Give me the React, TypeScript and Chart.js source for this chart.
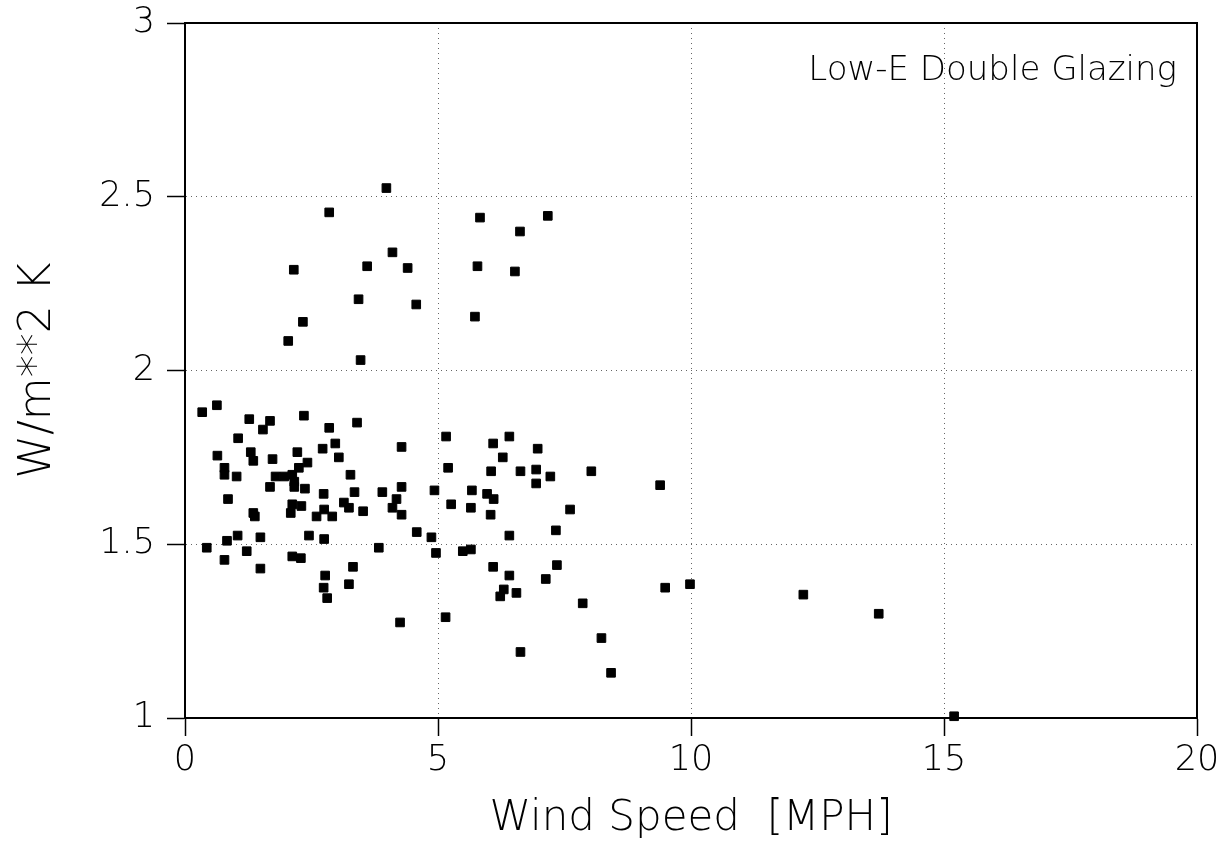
import React, { useEffect, useRef } from "react";
import { Chart, registerables } from "chart.js";

Chart.register(...registerables);

// Wind speed [MPH]
const windSpeed: number[] = [
  0.34, 0.63, 1.27, 1.68, 1.54, 2.35, 3.40, 2.85, 1.05, 2.97,
  5.16, 4.28, 6.41, 6.09, 6.97, 0.64, 1.30, 1.35, 1.73, 2.22,
  2.72, 3.04, 2.42, 2.25, 6.28, 0.78, 0.78, 1.02, 1.79, 1.96,
  2.12, 3.27, 6.63, 6.94, 7.22, 6.05, 5.20, 6.94, 1.68, 2.16,
  2.37, 2.16, 2.74, 3.35, 3.90, 4.28, 4.93, 5.67, 5.97, 6.10,
  0.85, 4.18, 4.10, 4.28, 5.26, 5.65, 6.04, 7.61, 2.12, 2.30,
  2.09, 3.14, 3.24, 3.52, 2.75, 2.60, 2.91, 1.35, 1.38, 4.58,
  4.87, 6.41, 7.33, 1.04, 0.83, 1.49, 2.45, 2.75, 0.43, 1.22,
  0.78, 2.12, 2.29, 3.83, 4.96, 5.49, 5.65, 1.49, 3.32, 6.09,
  7.35, 2.77, 6.41, 2.74, 3.24, 7.13, 2.81, 6.30, 6.23, 6.55,
  7.86, 4.25, 5.15, 6.63,
  3.98, 2.85, 5.83, 7.17, 6.62, 4.10, 2.15, 3.60, 4.40, 5.78,
  6.52, 3.43, 4.57, 5.73, 2.33, 2.04, 3.47,
  8.03, 9.39, 9.49, 9.98, 12.22, 13.71, 8.23, 8.42, 15.2,
];

// U-value [W/m**2 K]
const uValue: number[] = [
  1.88, 1.90, 1.86, 1.855, 1.83, 1.87, 1.85, 1.835, 1.805, 1.79,
  1.81, 1.78, 1.81, 1.79, 1.775, 1.755, 1.765, 1.74, 1.745, 1.765,
  1.775, 1.75, 1.735, 1.72, 1.75, 1.72, 1.70, 1.695, 1.695, 1.695,
  1.70, 1.70, 1.71, 1.715, 1.695, 1.71, 1.72, 1.675, 1.665, 1.665,
  1.66, 1.68, 1.645, 1.65, 1.65, 1.665, 1.655, 1.655, 1.645, 1.63,
  1.63, 1.63, 1.605, 1.585, 1.615, 1.605, 1.585, 1.60, 1.615, 1.61,
  1.59, 1.62, 1.605, 1.595, 1.60, 1.58, 1.58, 1.59, 1.58, 1.535,
  1.52, 1.525, 1.54, 1.525, 1.51, 1.52, 1.525, 1.515, 1.49, 1.48,
  1.455, 1.465, 1.46, 1.49, 1.475, 1.48, 1.485, 1.43, 1.435, 1.435,
  1.44, 1.41, 1.41, 1.375, 1.385, 1.40, 1.345, 1.37, 1.35, 1.36,
  1.33, 1.275, 1.29, 1.19,
  2.525, 2.455, 2.44, 2.445, 2.40, 2.34, 2.29, 2.30, 2.295, 2.30,
  2.285, 2.205, 2.19, 2.155, 2.14, 2.085, 2.03,
  1.71, 1.67, 1.375, 1.385, 1.355, 1.30, 1.23, 1.13, 1.005,
];

const xTitle = "Wind Speed  [MPH]";
const yTitle = "W/m**2 K";
const annotation = "Low-E Double Glazing";
const xTickValues = [0, 5, 10, 15, 20];
const yTickValues = [1, 1.5, 2, 2.5, 3];

const FONT = "'DejaVu Sans', 'Liberation Sans', sans-serif";

const framePlugin = {
  id: "frameAndNote",
  afterDraw(chart: any) {
    const { ctx, chartArea } = chart;
    const { left, right, top, bottom } = chartArea;
    ctx.save();
    ctx.strokeStyle = "#000";
    ctx.lineWidth = 2;
    ctx.beginPath();
    ctx.moveTo(left, top);
    ctx.lineTo(right, top);
    ctx.lineTo(right, bottom);
    ctx.stroke();
    ctx.fillStyle = "#000";
    ctx.font = `300 34px ${FONT}`;
    ctx.textAlign = "right";
    ctx.textBaseline = "alphabetic";
    ctx.fillText(annotation, right - 20, top + 57);
    ctx.restore();
  },
};

export default function App() {
  const ref = useRef<HTMLCanvasElement | null>(null);

  useEffect(() => {
    if (!ref.current) return;
    const points = windSpeed.map((x, i) => ({ x, y: uValue[i] }));
    const edgeX = (v: number) => v === 0 || v === 20;
    const edgeY = (v: number) => v === 1 || v === 3;
    const chart = new Chart(ref.current, {
      type: "scatter",
      data: {
        datasets: [
          {
            data: points,
            pointStyle: "rect",
            pointRadius: 6.1,
            pointHoverRadius: 6.1,
            backgroundColor: "#000",
            borderColor: "#000",
            borderWidth: 1,
            clip: false as any,
          },
        ],
      },
      options: {
        responsive: false,
        animation: false,
        events: [],
        layout: { padding: { top: 23, right: 34, left: 0, bottom: 0 } },
        plugins: {
          legend: { display: false },
          tooltip: { enabled: false },
        },
        scales: {
          x: {
            type: "linear",
            min: 0,
            max: 20,
            afterFit: (s: any) => {
              s.height = 853 - 718;
              s.paddingLeft = 0;
              s.paddingRight = 0;
            },
            afterBuildTicks: (s: any) => {
              s.ticks = xTickValues.map((v) => ({ value: v }));
            },
            ticks: {
              color: "#000",
              font: { family: FONT, size: 35, weight: 300 as any },
              padding: 4,
              maxRotation: 0,
              callback: (v: any) => String(v),
            },
            grid: {
              color: (c: any) => (edgeX(c.tick?.value) ? "rgba(0,0,0,0)" : "#666"),
              lineWidth: 1,
              tickColor: "#000",
              tickLength: 18,
              tickWidth: 1.5,
            },
            border: { color: "#000", width: 2, dash: [1, 4] },
            title: {
              display: true,
              text: xTitle,
              color: "#000",
              font: { family: FONT, size: 42, weight: 300 as any },
              padding: { top: 0, bottom: 9 },
            },
          },
          y: {
            type: "linear",
            min: 1,
            max: 3,
            afterFit: (s: any) => {
              s.width = 185;
              s.paddingTop = 0;
              s.paddingBottom = 0;
            },
            afterBuildTicks: (s: any) => {
              s.ticks = yTickValues.map((v) => ({ value: v }));
            },
            ticks: {
              color: "#000",
              font: { family: FONT, size: 35, weight: 300 as any },
              padding: 12,
              callback: (v: any) => String(v),
            },
            grid: {
              color: (c: any) => (edgeY(c.tick?.value) ? "rgba(0,0,0,0)" : "#666"),
              lineWidth: 1,
              tickColor: "#000",
              tickLength: 18,
              tickWidth: 1.5,
            },
            border: { color: "#000", width: 2, dash: [1, 4] },
            title: {
              display: true,
              text: yTitle,
              color: "#000",
              font: { family: FONT, size: 44, weight: 300 as any },
              padding: { top: 12, bottom: 0 },
            },
          },
        },
      },
      plugins: [framePlugin],
    });
    return () => chart.destroy();
  }, []);

  return (
    <div style={{ position: "fixed", left: 0, top: 0, width: 1231, height: 853, background: "#fff" }}>
      <canvas ref={ref} width={1231} height={853} style={{ width: 1231, height: 853, display: "block" }} />
    </div>
  );
}
